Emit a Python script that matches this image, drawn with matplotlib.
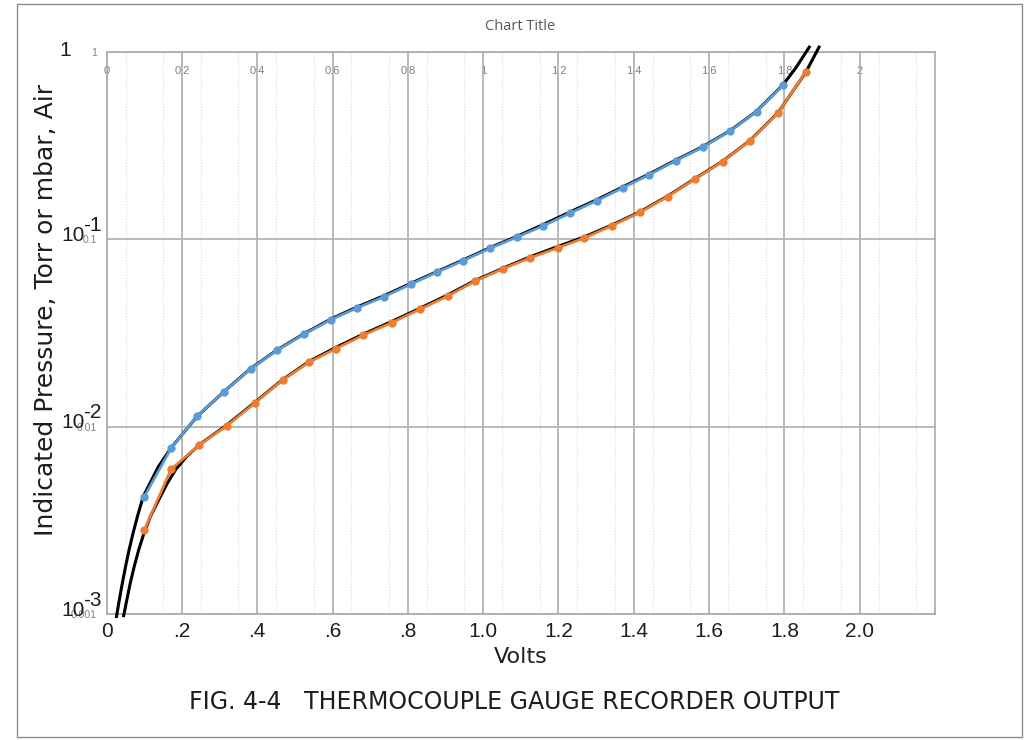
import numpy as np
import matplotlib
matplotlib.use('Agg')
import matplotlib.pyplot as plt
from matplotlib.patches import Rectangle
from matplotlib.ticker import NullLocator, FixedLocator

# Excel series overlaid on the scanned figure (volts, pressure)
blue_v = [0.100, 0.171, 0.241, 0.312, 0.382, 0.453, 0.524, 0.595, 0.666, 0.737,
          0.809, 0.877, 0.947, 1.018, 1.089, 1.160, 1.231, 1.303, 1.370, 1.441,
          1.512, 1.583, 1.656, 1.726, 1.797]
blue_p = [0.00423, 0.00767, 0.01145, 0.01537, 0.0203, 0.0256, 0.0311, 0.0372, 0.0431, 0.0494,
          0.0577, 0.0667, 0.0769, 0.0895, 0.1025, 0.118, 0.138, 0.161, 0.188, 0.221,
          0.263, 0.310, 0.378, 0.480, 0.666]

orange_v = [0.100, 0.171, 0.246, 0.319, 0.394, 0.467, 0.538, 0.609, 0.682, 0.757,
            0.832, 0.906, 0.978, 1.052, 1.124, 1.198, 1.269, 1.341, 1.416, 1.490,
            1.563, 1.636, 1.709, 1.784, 1.857]
orange_p = [0.00281, 0.00593, 0.00798, 0.0101, 0.0134, 0.0177, 0.0221, 0.0261, 0.0308, 0.0359,
            0.0423, 0.0498, 0.0597, 0.0695, 0.0795, 0.0899, 0.1016, 0.118, 0.139, 0.169,
            0.210, 0.260, 0.336, 0.474, 0.784]

# black curves of the scanned figure
scan_a_v = [0.026, 0.0335, 0.0415, 0.050, 0.0595, 0.070, 0.0815, 0.097, 0.137, 0.171,
            0.241, 0.312, 0.382, 0.453, 0.524, 0.595, 0.666, 0.737, 0.809, 0.877,
            0.947, 1.018, 1.089, 1.160, 1.231, 1.303, 1.370, 1.441, 1.512, 1.583,
            1.656, 1.726, 1.797, 1.830, 1.866]
scan_a_p = [0.00097, 0.00119, 0.00146, 0.00179, 0.0022, 0.0027, 0.00331, 0.00424, 0.0061, 0.0077,
            0.0114, 0.0154, 0.0204, 0.0257, 0.0313, 0.0375, 0.0436, 0.0500, 0.0583, 0.0672,
            0.0776, 0.0902, 0.1035, 0.120, 0.140, 0.163, 0.190, 0.223, 0.265, 0.312,
            0.380, 0.482, 0.67, 0.82, 1.06]
scan_b_v = [0.045, 0.0535, 0.0625, 0.073, 0.085, 0.099, 0.116, 0.138, 0.161, 0.184,
            0.212, 0.246, 0.319, 0.394, 0.467, 0.538, 0.609, 0.682, 0.757, 0.832,
            0.906, 0.978, 1.052, 1.124, 1.198, 1.269, 1.341, 1.416, 1.490, 1.563,
            1.636, 1.709, 1.784, 1.857, 1.892]
scan_b_p = [0.00098, 0.00119, 0.00146, 0.00179, 0.0022, 0.0027, 0.00331, 0.00406, 0.00499, 0.00593,
            0.00692, 0.0080, 0.0102, 0.0135, 0.0178, 0.0223, 0.0265, 0.0312, 0.0364, 0.0428,
            0.0505, 0.0602, 0.0700, 0.0805, 0.0915, 0.1030, 0.119, 0.140, 0.170, 0.211,
            0.261, 0.337, 0.476, 0.78, 1.06]

volt_ticks = [0, 0.2, 0.4, 0.6, 0.8, 1.0, 1.2, 1.4, 1.6, 1.8, 2.0]
scan_xlabels = ['0', '.2', '.4', '.6', '.8', '1.0', '1.2', '1.4', '1.6', '1.8', '2.0']
excel_xlabels = ['0', '0.2', '0.4', '0.6', '0.8', '1', '1.2', '1.4', '1.6', '1.8', '2']
decades = [0.001, 0.01, 0.1, 1]
excel_ylabels = ['0.001', '0.01', '0.1', '1']
scan_exponents = ['-3', '-2', '-1']

W, H = 1026, 740
ink = '#1e1e1e'
fig = plt.figure(figsize=(W / 100, H / 100), dpi=100)
fig.patch.set_facecolor('white')
ax = fig.add_axes([106.7 / W, 1 - 614 / H, 828.3 / W, 562.1 / H])
ax.set_yscale('log')
ax.set_xlim(0, 2.2)
ax.set_ylim(0.001, 1)

for s in ax.spines.values():
    s.set_color('#a8a8a8')
    s.set_linewidth(1.2)

# grid of the scan
ax.set_xticks(volt_ticks)
ax.xaxis.set_minor_locator(FixedLocator(np.arange(0.05, 2.2, 0.1)))
ax.set_yticks(decades)
ax.yaxis.set_minor_locator(NullLocator())
ax.grid(True, which='major', color='#b4b4b4', linewidth=1.3)
ax.grid(True, which='minor', axis='x', color='#dadada', linewidth=0.8, linestyle=':')
ax.tick_params(which='both', length=0)

# scanned bottom labels
ax.set_xticklabels(scan_xlabels, fontsize=15, color=ink, family='Liberation Sans')
ax.tick_params(axis='x', pad=6)
# excel small y labels
ax.set_yticklabels(excel_ylabels, fontsize=7.5, color='#808080', family='Liberation Sans')
ax.tick_params(axis='y', pad=7)

# excel small x labels on top, inside the plot
top = ax.secondary_xaxis('top')
top.set_xticks(volt_ticks)
top.set_xticklabels(excel_xlabels, fontsize=8, color='#808080', family='Liberation Sans')
top.tick_params(length=0, pad=-17)
top.spines['top'].set_visible(False)

# scanned y labels
ax.annotate('1', xy=(0, 1), xycoords=('axes fraction', 'data'), xytext=(-42, 1),
            textcoords='offset pixels', ha='center', va='center', fontsize=15,
            color=ink, family='Liberation Sans')
for val, ex in zip(decades[:3], scan_exponents):
    ax.annotate('10', xy=(0, val), xycoords=('axes fraction', 'data'), xytext=(-22, 4),
                textcoords='offset pixels', ha='right', va='center', fontsize=15,
                color=ink, family='Liberation Sans')
    ax.annotate(ex, xy=(0, val), xycoords=('axes fraction', 'data'), xytext=(-24, 14),
                textcoords='offset pixels', ha='left', va='center', fontsize=15,
                color=ink, family='Liberation Sans')

# curves
ax.plot(scan_a_v, scan_a_p, color='black', linewidth=2.2, clip_on=False, zorder=3)
ax.plot(scan_b_v, scan_b_p, color='black', linewidth=2.2, clip_on=False, zorder=3)
ax.plot(blue_v, blue_p, color='#5b9bd5', linewidth=2, marker='o', markersize=5, zorder=4)
ax.plot(orange_v, orange_p, color='#ed7d31', linewidth=2, marker='o', markersize=5, zorder=4)

fig.text(520 / W, 1 - 27 / H, 'Chart Title', ha='center', va='center', fontsize=10.5,
         color='#595959', family='Open Sans')
fig.text(46 / W, 1 - 310 / H, 'Indicated Pressure, Torr or mbar, Air', rotation=90,
         ha='center', va='center', fontsize=18, color=ink, family='DejaVu Sans')
fig.text(521 / W, 1 - 657 / H, 'Volts', ha='center', va='center', fontsize=16,
         color=ink, family='DejaVu Sans')
fig.text(514 / W, 1 - 702 / H, 'FIG. 4-4   THERMOCOUPLE GAUGE RECORDER OUTPUT',
         ha='center', va='center', fontsize=17, color=ink, family='DejaVu Sans')

# page border of the scan
fig.patches.append(Rectangle((17 / W, 3 / H), 1005 / W, 733 / H, transform=fig.transFigure,
                             fill=False, edgecolor='#8c8c8c', linewidth=1))

fig.savefig('out.png', dpi=100)
